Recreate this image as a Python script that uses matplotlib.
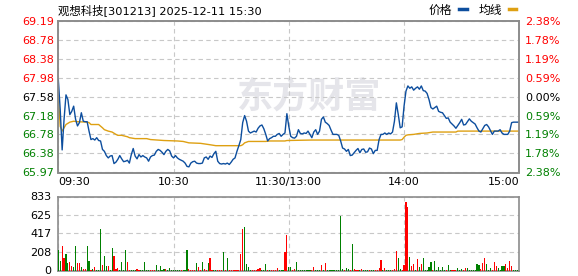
import matplotlib
matplotlib.use('Agg')
import matplotlib.pyplot as plt
from matplotlib.lines import Line2D

plt.rcParams['font.family'] = ['DejaVu Sans']
CJK = ['Noto Sans CJK SC', 'DejaVu Sans']
MIXED = ['DejaVu Sans', 'Noto Sans CJK SC']

# ---- data ----
title = '观想科技[301213] 2025-12-11 15:30'
prev_close = 67.58
price_ticks = [65.97, 66.38, 66.78, 67.18, 67.58, 67.98, 68.38, 68.78, 69.19]
pct_labels = ['2.38%', '1.78%', '1.19%', '0.59%', '0.00%', '0.59%', '1.19%', '1.78%', '2.38%']
time_pos = [0, 60, 120, 180, 240]
time_labels = ['09:30', '10:30', '11:30/13:00', '14:00', '15:00']
vol_ticks = [0, 208, 417, 625, 833]

price = [
    67.95, 67.30, 66.45, 67.10, 67.62, 67.52, 67.20, 67.27, 67.38, 67.10,
    66.96, 67.03, 67.24, 67.06, 67.05, 67.05, 66.85, 66.67, 66.69, 66.66,
    66.71, 66.65, 66.64, 66.46, 66.42, 66.33, 66.28, 66.32, 66.33, 66.16,
    66.19, 66.25, 66.33, 66.26, 66.20, 66.21, 66.23, 66.17, 66.35, 66.48,
    66.32, 66.26, 66.35, 66.30, 66.33, 66.30, 66.28, 66.21, 66.30, 66.33,
    66.34, 66.42, 66.46, 66.44, 66.40, 66.35, 66.42, 66.46, 66.43, 66.32,
    66.28, 66.33, 66.28, 66.25, 66.23, 66.21, 66.17, 66.10, 66.09, 66.17,
    66.20, 66.21, 66.17, 66.16, 66.16, 66.17, 66.28, 66.30, 66.25, 66.32,
    66.29, 66.37, 66.42, 66.21, 66.16, 66.15, 66.16, 66.15, 66.17, 66.14,
    66.19, 66.25, 66.28, 66.42, 66.54, 66.67, 67.03, 67.18, 67.06, 66.85,
    66.81, 66.83, 66.85, 66.83, 66.91, 66.96, 66.98, 66.90, 66.78, 66.64,
    66.69, 66.71, 66.74, 66.74, 66.78, 66.80, 66.74, 66.78, 66.81, 67.22,
    66.95, 66.74, 66.71, 66.70, 66.74, 66.88, 66.80, 66.79, 66.81, 66.80,
    66.85, 66.78, 66.71, 66.83, 66.88, 66.78, 66.85, 67.10, 67.15, 67.04,
    67.01, 66.97, 66.87, 66.78, 66.78, 66.78, 66.76, 66.64, 66.49, 66.47,
    66.42, 66.46, 66.33, 66.34, 66.39, 66.44, 66.48, 66.39, 66.46, 66.47,
    66.40, 66.41, 66.49, 66.47, 66.37, 66.44, 66.44, 66.67, 66.78, 66.78,
    66.81, 66.78, 66.81, 66.79, 66.83, 67.06, 67.45, 67.20, 66.92, 66.94,
    67.38, 67.70, 67.81, 67.76, 67.79, 67.72, 67.76, 67.79, 67.74, 67.81,
    67.71, 67.70, 67.65, 67.52, 67.35, 67.32, 67.35, 67.38, 67.27, 67.25,
    67.24, 67.18, 67.12, 67.13, 67.04, 67.00, 66.96, 66.91, 66.97, 67.03,
    67.10, 66.98, 66.99, 67.05, 67.11, 67.06, 67.03, 67.00, 66.92, 66.85,
    66.83, 66.90, 66.97, 66.99, 66.94, 66.86, 66.78, 66.85, 66.85, 66.85,
    66.88, 66.81, 66.78, 66.78, 66.78, 66.85, 67.03, 67.04, 67.04, 67.04,
    67.04,
]

avg_min = [0, 1, 2, 3, 4, 6, 8, 10, 15, 16, 17, 21, 23, 24, 26, 28, 30, 31, 33, 36,
           37, 40, 46, 48, 55, 62, 65, 68, 74, 79, 82, 95, 96, 97, 99, 101, 108, 110, 118, 119,
           132, 148, 178, 179, 180, 181, 182, 185, 188, 192, 195, 199, 207, 208, 240]
avg_val = [67.58, 66.95, 66.85, 66.92, 66.99, 67.04, 67.06, 67.05, 67.04, 67.03,
           66.99, 66.99, 66.92, 66.88, 66.85, 66.83, 66.78, 66.76, 66.76, 66.73,
           66.71, 66.69, 66.69, 66.67, 66.65, 66.64, 66.63, 66.60, 66.59, 66.56,
           66.54, 66.54, 66.56, 66.60, 66.63, 66.63, 66.63, 66.64, 66.64, 66.65,
           66.66, 66.66, 66.66, 66.67, 66.72, 66.76, 66.77, 66.78, 66.80, 66.81,
           66.83, 66.83, 66.83, 66.85, 66.85]

volume = [
    235, 112, 274, 143, 189, 85, 93, 54, 42, 274,
    85, 85, 42, 19, 19, 274, 112, 6, 12, 39,
    6, 6, 467, 66, 166, 54, 54, 6, 258, 158,
    15, 27, 6, 96, 6, 235, 96, 6, 6, 6,
    6, 15, 6, 6, 6, 96, 6, 6, 6, 6,
    6, 66, 6, 54, 6, 19, 19, 6, 27, 6,
    6, 6, 6, 6, 8, 6, 6, 228, 19, 6,
    6, 6, 85, 42, 6, 96, 19, 6, 85, 143,
    6, 6, 8, 6, 6, 6, 212, 6, 143, 6,
    6, 6, 6, 6, 6, 189, 467, 490, 73, 39,
    6, 6, 6, 6, 15, 27, 6, 6, 73, 6,
    6, 6, 6, 6, 27, 6, 6, 6, 212, 397,
    39, 39, 6, 15, 96, 6, 6, 6, 6, 6,
    6, 6, 6, 39, 6, 6, 6, 66, 8, 85,
    6, 6, 6, 6, 6, 6, 6, 617, 15, 6,
    27, 15, 6, 293, 15, 6, 6, 6, 12, 6,
    6, 6, 6, 8, 6, 6, 6, 27, 123, 6,
    27, 6, 6, 6, 8, 12, 224, 143, 15, 8,
    66, 771, 714, 154, 54, 73, 6, 131, 42, 73,
    143, 6, 6, 42, 96, 6, 108, 6, 42, 6,
    42, 6, 6, 66, 6, 8, 6, 8, 27, 6,
    19, 6, 27, 27, 6, 6, 6, 6, 73, 66,
    15, 85, 143, 73, 6, 27, 6, 96, 54, 27,
    8, 54, 54, 73, 27, 108, 54, 6, 6, 6,
    316,
]
# R = up minute (red), G = down minute (green)
vol_dir = ('GGRRGGRRGG' 'RRGRRGGRGR' 'GGGRGGRGGR' 'RRGGGGRRGG' 'GRRGGGGGRR'
           'RGGGGGRGGG' 'GGGGRGGGRR' 'RRGRRGRRGR' 'RGGRRRGRGR' 'RRRRRRRGGG'
           'GRRRRRGGGR' 'GRRRRGGGRR' 'GGRRGGGGGG' 'GGRRGGGRGR' 'GGGGGGGGGR'
           'GGRGRRRGRG' 'GGRGGRRRRG' 'RGGGRRRGGR' 'RRRGRRGRGR' 'GGGGGRGGGG'
           'GGRGGRRRGG' 'GRRGGGGGGG' 'RRRGGGRRRG' 'GGGRRRRGGG' 'R')

if not (len(price) == 241 and len(volume) == 241 and len(vol_dir) == 241):
    raise SystemExit('bad data length %d %d %d' % (len(price), len(volume), len(vol_dir)))

RED = '#ff0000'
GREEN = '#008000'
GRID = '#c8c8c8'
SPINE = '#8c8c8c'
BLUE = '#0d4e9e'
GOLD = '#dea012'


def lab_color(v):
    if v > prev_close + 1e-6:
        return RED
    if v < prev_close - 1e-6:
        return GREEN
    return 'black'


fig = plt.figure(figsize=(5.78, 2.76), dpi=100)
fig.patch.set_facecolor('white')

W, H = 578.0, 276.0
ax = fig.add_axes([58.3 / W, 1 - 172.5 / H, 461 / W, 151.5 / H])
axv = fig.add_axes([58.3 / W, 1 - 270.5 / H, 461 / W, 74 / H])

# watermark
ax.text(0.545, 0.50, '东方财富', transform=ax.transAxes, fontsize=26, fontweight='bold',
        family=CJK, color='#e5e5ea', ha='center', va='center', zorder=0)

minutes = list(range(len(price)))
ax.plot(minutes, price, color=BLUE, lw=1.0, zorder=4)
ax.plot(avg_min, avg_val, color=GOLD, lw=1.0, zorder=3)

ax.set_xlim(0, 240)
ax.set_ylim(price_ticks[0], price_ticks[-1])
ax.set_yticks(price_ticks)
ax.set_yticklabels(['%.2f' % v for v in price_ticks], fontsize=8)
for lbl, v in zip(ax.get_yticklabels(), price_ticks):
    lbl.set_color(lab_color(v))
ax.set_xticks(time_pos)
ax.set_xticklabels(time_labels, fontsize=8)
xl = ax.get_xticklabels()
xl[0].set_ha('left')
xl[-1].set_ha('right')
ax.tick_params(length=0, pad=3)
ax.grid(True, color=GRID, linestyle=(0, (4, 3)), lw=0.8)

ax2 = ax.twinx()
ax2.set_ylim(ax.get_ylim())
ax2.set_yticks(price_ticks)
ax2.set_yticklabels(pct_labels, fontsize=8)
for lbl, v in zip(ax2.get_yticklabels(), price_ticks):
    lbl.set_color(lab_color(v))
ax2.tick_params(length=0, pad=4)

# volume bars
colors = [RED if d == 'R' else GREEN for d in vol_dir]
axv.bar(minutes, volume, width=0.6, color=colors, linewidth=0, zorder=3)
axv.set_xlim(0, 240)
axv.set_ylim(0, vol_ticks[-1])
axv.set_yticks(vol_ticks)
axv.set_yticklabels([str(v) for v in vol_ticks], fontsize=8)
axv.set_xticks(time_pos)
axv.set_xticklabels([])
axv.tick_params(length=0, pad=5)
axv.grid(True, color=GRID, linestyle=(0, (4, 3)), lw=0.8)

for a in (ax, ax2, axv):
    for s in a.spines.values():
        s.set_color(SPINE)
        s.set_linewidth(1.2)

# title and legend
fig.text(58.5 / W, 1 - 10 / H, title, fontsize=8.2, family=MIXED, ha='left', va='center')
handles = [Line2D([], [], color=BLUE, lw=2.5), Line2D([], [], color=GOLD, lw=2.5)]
fig.legend(handles, ['价格', '均线'], ncol=2, markerfirst=False, frameon=False,
           loc='center right', bbox_to_anchor=(516 / W, 1 - 10 / H),
           prop={'family': CJK, 'size': 8.5}, handlelength=0.6, handletextpad=0.6,
           columnspacing=1.0, borderpad=0, borderaxespad=0)

fig.savefig('out.png', dpi=100)
